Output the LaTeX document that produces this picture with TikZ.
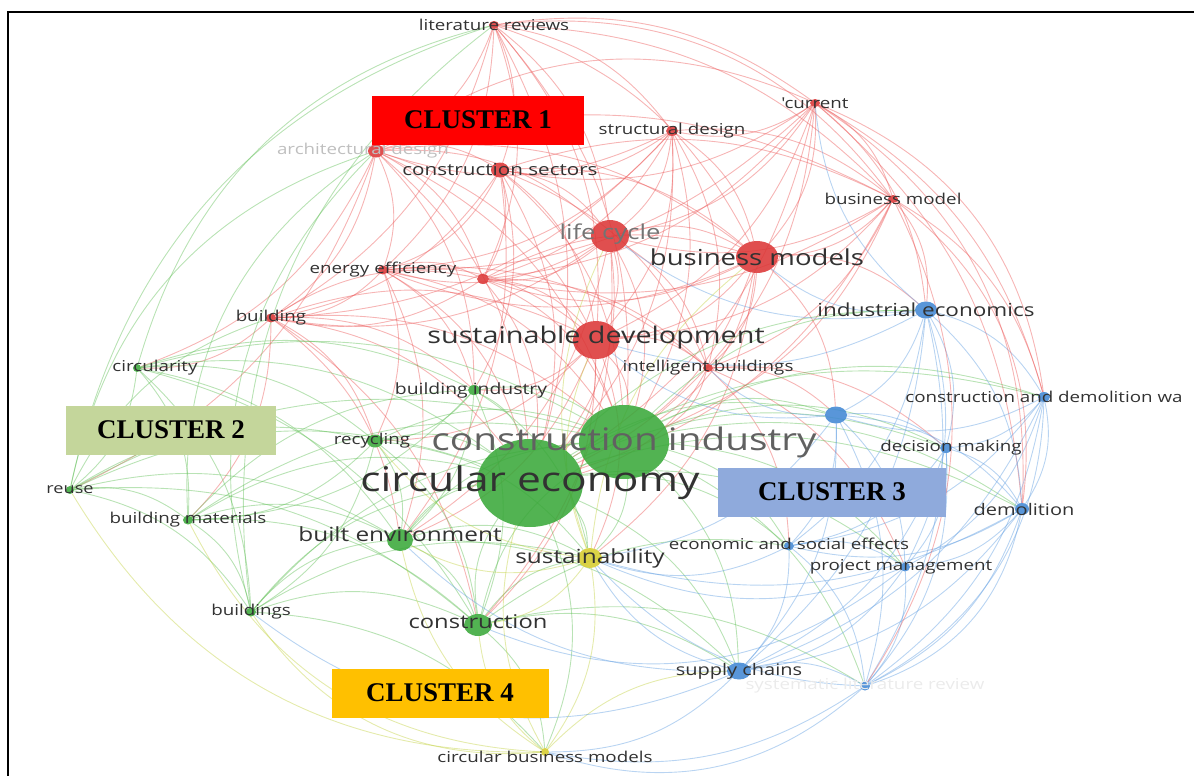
\documentclass[tikz,border=0pt]{standalone}
\usepackage{fontspec}
\setmainfont{Liberation Serif}
\newfontfamily\vosfont{Open Sans}[FakeStretch=1.25]
\usetikzlibrary{shapes.geometric}

\definecolor{vred}{RGB}{220,55,55}
\definecolor{vgreen}{RGB}{58,168,58}
\definecolor{vblue}{RGB}{66,136,212}
\definecolor{vyellow}{RGB}{214,204,44}
\definecolor{ered}{RGB}{236,90,90}
\definecolor{egreen}{RGB}{100,192,90}
\definecolor{eblue}{RGB}{100,160,226}
\definecolor{eyellow}{RGB}{196,210,70}
\definecolor{vtext}{RGB}{50,50,50}
\definecolor{cone}{RGB}{255,0,0}
\definecolor{ctwo}{RGB}{196,214,155}
\definecolor{cthree}{RGB}{143,170,220}
\definecolor{cfour}{RGB}{255,192,0}

\pgfdeclarelayer{links}
\pgfsetlayers{links,main}

\tikzset{
  every node/.append style={inner sep=0pt, outer sep=0pt},
  dot/.style={ellipse, fill opacity=0.88},
  reddot/.style={dot, fill=vred},
  greendot/.style={dot, fill=vgreen},
  bluedot/.style={dot, fill=vblue},
  yellowdot/.style={dot, fill=vyellow},
  lbl/.style={font=\vosfont\fontsize{#1}{#1}\selectfont, text=vtext},
  link/.style={line width=0.9pt, draw opacity=0.45},
  redge/.style={link, draw=ered},
  gedge/.style={link, draw=egreen},
  bedge/.style={link, draw=eblue},
  yedge/.style={link, draw=eyellow},
  cluster/.style={minimum height=49pt, font=\bfseries\fontsize{27}{27}\selectfont, text=black}
}

\begin{document}
\begin{tikzpicture}[x=1pt, y=-1pt]
  \useasboundingbox (0,0) rectangle (1194,776);

  % red keywords
  \node[reddot, minimum width=10pt, minimum height=8pt] (litrev) at (494,25) {};
  \node[reddot, minimum width=10pt, minimum height=8pt] (current) at (815,103) {};
  \node[reddot, minimum width=12pt, minimum height=10pt] (structdes) at (672,131) {};
  \node[reddot, minimum width=16pt, minimum height=13pt] (archdes) at (376,151) {};
  \node[reddot, minimum width=18pt, minimum height=15pt] (consec) at (500,170) {};
  \node[reddot, minimum width=10pt, minimum height=8pt] (bmodel) at (893,199) {};
  \node[reddot, minimum width=38pt, minimum height=32pt] (lifecyc) at (610,236) {};
  \node[reddot, minimum width=42pt, minimum height=32pt] (bmodels) at (757,257) {};
  \node[reddot, minimum width=10pt, minimum height=9pt] (energy) at (383,270) {};
  \node[reddot, minimum width=12pt, minimum height=10pt] (redx) at (483,279) {};
  \node[reddot, minimum width=10pt, minimum height=9pt] (building) at (271,318) {};
  \node[reddot, minimum width=46pt, minimum height=38pt] (susdev) at (596,340) {};
  \node[reddot, minimum width=10pt, minimum height=8pt] (intbuild) at (708,368) {};

  % green keywords
  \node[greendot, minimum width=8pt, minimum height=8pt] (circty) at (137,368) {};
  \node[greendot, minimum width=12pt, minimum height=10pt] (bindustry) at (474,390) {};
  \node[greendot, minimum width=16pt, minimum height=13pt] (recycling) at (375,441) {};
  \node[greendot, minimum width=90pt, minimum height=74pt] (conind) at (624,442) {};
  \node[greendot, minimum width=106pt, minimum height=88pt] (circecon) at (530,483) {};
  \node[greendot, minimum width=8pt, minimum height=8pt] (reuse) at (70,490) {};
  \node[greendot, minimum width=10pt, minimum height=9pt] (bmat) at (188,520) {};
  \node[greendot, minimum width=26pt, minimum height=22pt] (builtenv) at (400,540) {};
  \node[greendot, minimum width=28pt, minimum height=22pt] (construction) at (478,625) {};
  \node[greendot, minimum width=10pt, minimum height=9pt] (buildings) at (251,612) {};

  % blue keywords
  \node[bluedot, minimum width=22pt, minimum height=17pt] (indecon) at (926,310) {};
  \node[bluedot, minimum width=12pt, minimum height=10pt] (cdw) at (1044,397) {};
  \node[bluedot, minimum width=22pt, minimum height=17pt] (bluex) at (836,415) {};
  \node[bluedot, minimum width=12pt, minimum height=10pt] (decmak) at (946,448) {};
  \node[bluedot, minimum width=14pt, minimum height=12pt] (demol) at (1022,509) {};
  \node[bluedot, minimum width=10pt, minimum height=9pt] (econsoc) at (789,546) {};
  \node[bluedot, minimum width=10pt, minimum height=9pt] (projman) at (905,567) {};
  \node[bluedot, minimum width=24pt, minimum height=17pt] (supply) at (739,671) {};
  \node[bluedot, minimum width=10pt, minimum height=9pt] (slr) at (865,686) {};

  % yellow keywords
  \node[yellowdot, minimum width=24pt, minimum height=20pt] (sustain) at (590,558) {};
  \node[yellowdot, minimum width=8pt, minimum height=8pt] (cbm) at (545,752) {};

  \begin{pgfonlayer}{links}
    % red links
    \foreach \a/\bs in {
        litrev/{current,archdes,structdes,consec,building,bmodel,energy,lifecyc,bmodels,susdev,circecon,conind,redx},
        current/{structdes,bmodel,consec,indecon,cdw,demol,energy,lifecyc,bmodels,susdev,circecon,conind,redx},
        structdes/{archdes,consec,bmodel,energy,redx,lifecyc,bmodels,susdev,circecon,conind,intbuild,building},
        archdes/{consec,energy,building,redx,bindustry,reuse,circty,lifecyc,bmodels,susdev,circecon,conind,bmodel},
        consec/{energy,redx,building,bindustry,lifecyc,bmodels,susdev,circecon,conind,builtenv,bmodel,intbuild},
        bmodel/{indecon,cdw,intbuild,lifecyc,bmodels,susdev,circecon,conind,redx},
        lifecyc/{bmodels,susdev,circecon,conind,builtenv,construction,energy,redx,intbuild,building},
        bmodels/{susdev,circecon,conind,indecon,sustain,intbuild,bluex,redx,energy},
        energy/{building,redx,intbuild,bindustry,builtenv,susdev,circecon,conind,recycling},
        redx/{susdev,circecon,conind,intbuild,bmodels,building},
        building/{redx,circty,recycling,bmat,builtenv,construction,susdev,circecon,conind,bindustry},
        susdev/{circecon,conind,builtenv,construction,sustain,recycling,intbuild,bindustry},
        intbuild/{econsoc,projman,decmak,circecon,conind,bluex}}
      \foreach \b in \bs
        \draw[redge] (\a) to[bend left=22] (\b);
    % green links
    \foreach \a/\bs in {
        circty/{bmat,recycling,builtenv,buildings,construction,bindustry,circecon,conind,reuse},
        bindustry/{recycling,builtenv,construction,circecon,conind,sustain,bmat},
        recycling/{builtenv,construction,circecon,conind,bmat,buildings,sustain},
        reuse/{bmat,buildings,builtenv,construction,recycling,circecon,conind,building},
        bmat/{buildings,builtenv,construction,circecon,conind,bindustry},
        builtenv/{construction,circecon,conind,sustain,supply},
        buildings/{builtenv,construction,circecon,conind,cbm,sustain},
        construction/{circecon,conind,sustain,cbm,supply,econsoc,slr},
        circecon/{conind,sustain,supply,econsoc,projman,decmak,demol,cdw,indecon,bluex,cbm},
        conind/{sustain,supply,econsoc,projman,decmak,demol,cdw,indecon,bluex,slr}}
      \foreach \b in \bs
        \draw[gedge] (\a) to[bend left=22] (\b);
    % blue links
    \foreach \a/\bs in {
        indecon/{cdw,bluex,decmak,demol,econsoc,projman,supply,slr,susdev,bmodels,lifecyc,current},
        cdw/{bluex,decmak,demol,projman,econsoc,supply,slr},
        bluex/{decmak,demol,econsoc,projman,supply,slr,susdev,intbuild,sustain},
        decmak/{demol,econsoc,projman,supply,slr},
        demol/{econsoc,projman,supply,slr,sustain},
        econsoc/{projman,supply,slr,sustain},
        projman/{supply,slr,sustain},
        supply/{slr,sustain,builtenv,cbm},
        slr/{sustain,cbm}}
      \foreach \b in \bs
        \draw[bedge] (\a) to[bend left=22] (\b);
    % yellow links
    \foreach \a/\bs in {
        sustain/{cbm,construction,builtenv,susdev,lifecyc,bmodels,recycling},
        cbm/{construction,supply,builtenv,circecon}}
      \foreach \b in \bs
        \draw[yedge] (\a) to[bend left=22] (\b);
    % wide arcs round the outside
    \foreach \a/\b in {reuse/litrev,circty/litrev,buildings/archdes,buildings/litrev,bmat/archdes,reuse/archdes}
      \draw[gedge] (\a) to[bend left=30] (\b);
    \foreach \a/\b in {litrev/bmodel,archdes/current,current/demol,bmodel/demol,current/cdw,bmodel/slr}
      \draw[redge] (\a) to[bend left=30] (\b);
    \foreach \a/\b in {cdw/slr,demol/slr,slr/cbm,supply/buildings,projman/construction}
      \draw[bedge] (\a) to[bend left=30] (\b);
    \foreach \a/\b in {cbm/reuse,cbm/buildings,cbm/bmat}
      \draw[yedge] (\a) to[bend left=30] (\b);
  \end{pgfonlayer}

  % labels
  \node[lbl=15] (litrev-t) at (litrev) {literature reviews};
  \node[lbl=15] (current-t) at (current) {'current};
  \node[lbl=15] (structdes-t) at (structdes) {structural design};
  \node[lbl=15, text=black!25] (archdes-t) at ([xshift=-13pt]archdes) {architectural design};
  \node[lbl=16.5] (consec-t) at (consec) {construction sectors};
  \node[lbl=15] (bmodel-t) at (bmodel) {business model};
  \node[lbl=20.5, text=black!55] (lifecyc-t) at ([yshift=2pt]lifecyc) {life cycle};
  \node[lbl=22] (bmodels-t) at (bmodels) {business models};
  \node[lbl=15] (energy-t) at (energy) {energy efficiency};
  \node[lbl=15] (building-t) at (building) {building};
  \node[lbl=23] (susdev-t) at ([yshift=2pt]susdev) {sustainable development};
  \node[lbl=15] (intbuild-t) at (intbuild) {intelligent buildings};
  \node[lbl=15] (circty-t) at ([xshift=18pt]circty) {circularity};
  \node[lbl=15.5] (bindustry-t) at ([xshift=-3pt]bindustry) {building industry};
  \node[lbl=15] (recycling-t) at ([xshift=-3pt]recycling) {recycling};
  \node[lbl=31, text=black!62] (conind-t) at (conind) {construction industry};
  \node[lbl=34] (circecon-t) at (circecon) {circular economy};
  \node[lbl=14.5] (reuse-t) at (reuse) {reuse};
  \node[lbl=15] (bmat-t) at (bmat) {building materials};
  \node[lbl=19.5] (builtenv-t) at ([yshift=6pt]builtenv) {built environment};
  \node[lbl=19] (construction-t) at ([yshift=3pt]construction) {construction};
  \node[lbl=15] (buildings-t) at (buildings) {buildings};
  \node[lbl=18] (indecon-t) at (indecon) {industrial economics};
  \node[lbl=15] (cdw-t) at (cdw) {construction and demolition wa};
  \node[lbl=15] (decmak-t) at ([xshift=5pt]decmak) {decision making};
  \node[lbl=16] (demol-t) at ([xshift=2pt]demol) {demolition};
  \node[lbl=15] (econsoc-t) at ([yshift=2pt]econsoc) {economic and social effects};
  \node[lbl=15] (projman-t) at ([xshift=-4pt]projman) {project management};
  \node[lbl=16] (supply-t) at (supply) {supply chains};
  \node[lbl=15, text=black!8] (slr-t) at (slr) {systematic literature review};
  \node[lbl=19.5] (sustain-t) at (sustain) {sustainability};
  \node[lbl=15] (cbm-t) at ([yshift=-5pt]cbm) {circular business models};

  % cluster boxes
  \node[cluster, fill=cone, minimum width=212pt] (clusterA) at (478,120) {CLUSTER 1};
  \node[cluster, fill=ctwo, minimum width=210pt] (clusterB) at (171,430) {CLUSTER 2};
  \node[cluster, fill=cthree, minimum width=228pt] (clusterC) at (832,492) {CLUSTER 3};
  \node[cluster, fill=cfour, minimum width=217pt] (clusterD) at (440,693) {CLUSTER 4};

  % frame
  \draw[line width=2pt] (8,776) -- (8,12) -- (1194,12);
\end{tikzpicture}
\end{document}
